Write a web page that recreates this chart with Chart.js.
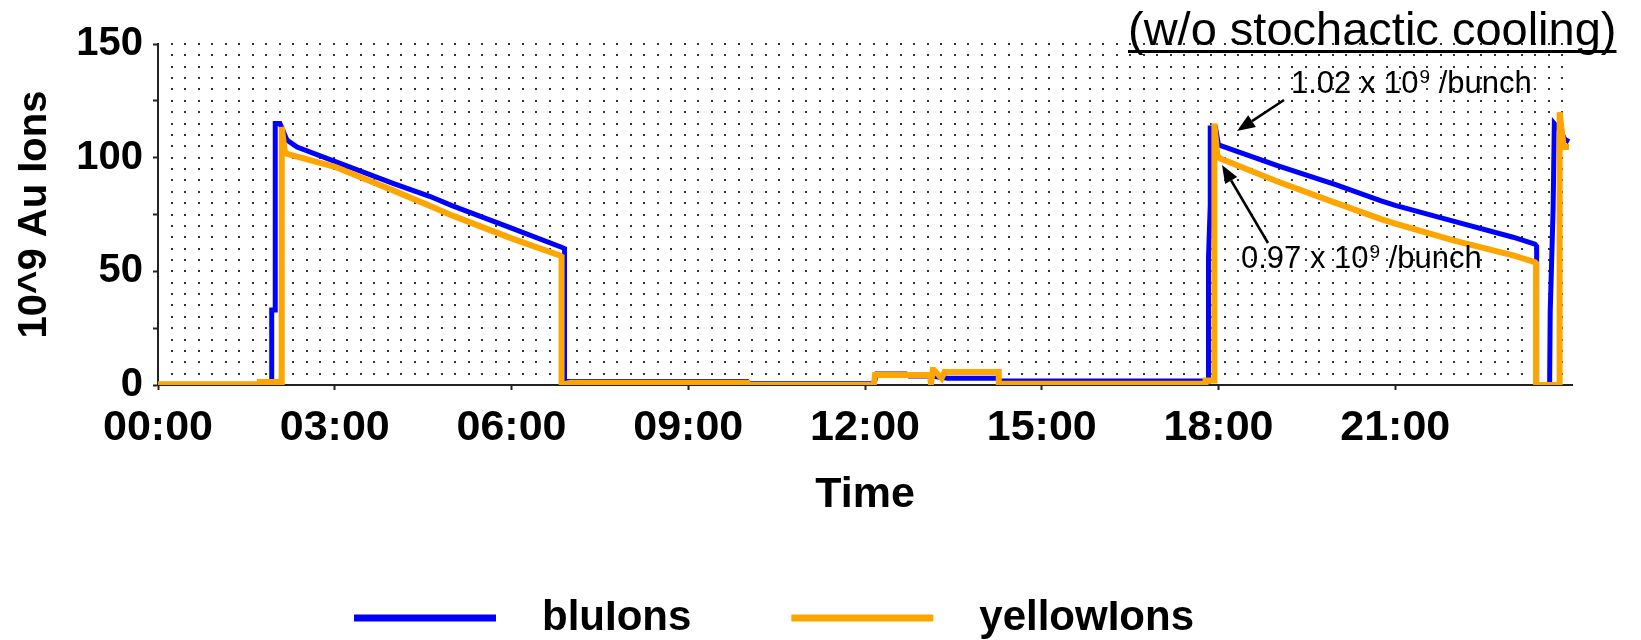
<!DOCTYPE html>
<html><head><meta charset="utf-8">
<script src="https://cdn.jsdelivr.net/npm/chart.js@4.4.1/dist/chart.umd.min.js"></script>
<style>html,body{margin:0;padding:0;background:#fff}</style>
</head><body>
<canvas id="c" width="1641" height="640"></canvas>
<script>
// ---- data ----
const seriesNames = ['bluIons', 'yellowIons'];
const xTickHours = [0, 3, 6, 9, 12, 15, 18, 21];
const xTickLabels = ['00:00', '03:00', '06:00', '09:00', '12:00', '15:00', '18:00', '21:00'];
const yTickValues = [0, 25, 50, 75, 100, 125, 150];
const yTickLabels = ['0', '', '50', '', '100', '', '150'];
const xAxisTitle = 'Time';
const yAxisTitle = '10^9 Au Ions';
const chartNote = '(w/o stochactic cooling)';
const noteBlue = ['1.02 x 10', '9', ' /bunch'];
const noteYellow = ['0.97 x 10', '9', ' /bunch'];

// hours of day
const bluTime = [0.00, 1.93, 1.93, 1.99, 1.99, 2.07, 2.19, 2.36, 3.00, 4.00, 4.61, 5.00, 6.00, 6.86, 6.90, 6.90,
  10.00, 10.02, 12.15, 12.20, 12.70, 12.75, 13.12, 13.40, 14.25, 14.27, 17.83, 17.83, 17.86, 17.86, 17.95, 18.00,
  19.00, 20.00, 20.76, 21.00, 22.00, 23.00, 23.37, 23.40, 23.40, 23.62, 23.63, 23.68, 23.70, 23.80, 23.88, 23.95];
const bluVal = [0, 0, 33, 33, 115, 115, 107.7, 104.7, 98.4, 88.6, 83, 78.8, 69, 60.5, 60, 1.5,
  1.5, 0.5, 0.5, 4.8, 4.8, 4, 4, 3, 3, 1.8, 1.8, 56, 79, 113, 113, 105.6,
  96.5, 88, 81, 79, 72, 65, 62, 61, 0, 0, 32, 78, 115, 112, 108, 107];

const yelTime = [0.00, 1.73, 1.73, 2.10, 2.10, 2.15, 2.19, 3.00, 4.00, 4.61, 5.00, 6.00, 6.82, 6.85, 6.85, 7.00,
  10.00, 10.00, 12.15, 12.17, 13.10, 13.12, 13.15, 13.17, 13.30, 13.35, 14.27, 14.27, 17.78, 17.78, 17.93, 17.93,
  17.98, 18.03, 19.00, 20.00, 20.76, 21.00, 22.00, 23.00, 23.37, 23.39, 23.39, 23.79, 23.79, 23.86, 23.95];
const yelVal = [0.3, 0.3, 1.3, 1.3, 113.5, 103, 101.7, 96, 85.5, 78.8, 74.5, 64.5, 57, 56.5, 0, 1,
  1, 0, 0, 4.4, 4.4, 0.5, 6.6, 6.6, 3, 5.7, 5.7, 0.5, 0.5, 2, 2, 115,
  101, 99.6, 89.5, 80, 73, 71, 63.5, 57, 54, 53.5, 0, 0, 120, 104.7, 104.7];

const toPts = (t, v) => t.map((x, i) => ({x: x, y: v[i]}));

// ---- plugins (decoration only) ----
const dotGrid = {
  id: 'dotGrid',
  beforeDatasetsDraw(chart) {
    const {ctx, chartArea: a, scales: {y}} = chart;
    ctx.save();
    ctx.fillStyle = '#333';
    for (let v = 150; v > 0; v -= 5) {
      const py = Math.round(y.getPixelForValue(v));
      for (let px = a.left + 13.5; px < a.right - 2; px += 13.5) {
        ctx.fillRect(Math.round(px) - 1, py - 1, 2, 2);
      }
    }
    ctx.restore();
  }
};

function arrow(ctx, x1, y1, x2, y2) {
  const ang = Math.atan2(y2 - y1, x2 - x1);
  const hl = 18, hw = 7;
  const bx = x2 - hl * Math.cos(ang), by = y2 - hl * Math.sin(ang);
  ctx.beginPath();
  ctx.moveTo(x1, y1); ctx.lineTo(bx, by);
  ctx.lineWidth = 2.5; ctx.strokeStyle = '#000'; ctx.stroke();
  ctx.beginPath();
  ctx.moveTo(x2, y2);
  ctx.lineTo(bx + hw * Math.sin(ang), by - hw * Math.cos(ang));
  ctx.lineTo(bx - hw * Math.sin(ang), by + hw * Math.cos(ang));
  ctx.closePath(); ctx.fillStyle = '#000'; ctx.fill();
}

function supText(ctx, parts, x, y) {
  ctx.font = '31px "Liberation Sans", Arial, sans-serif';
  ctx.fillText(parts[0], x, y);
  let w = ctx.measureText(parts[0]).width;
  ctx.font = '19px "Liberation Sans", Arial, sans-serif';
  ctx.fillText(parts[1], x + w + 1, y - 10);
  w += ctx.measureText(parts[1]).width + 1;
  ctx.font = '31px "Liberation Sans", Arial, sans-serif';
  ctx.fillText(parts[2], x + w, y);
}

const notesPlugin = {
  id: 'notes',
  afterDraw(chart) {
    const ctx = chart.ctx;
    ctx.save();
    ctx.fillStyle = '#000';
    ctx.textBaseline = 'alphabetic';
    ctx.textAlign = 'left';
    // title note
    ctx.font = '47px "Liberation Sans", Arial, sans-serif';
    const tw = ctx.measureText(chartNote).width;
    ctx.fillText(chartNote, 1128, 45);
    ctx.fillRect(1128, 50, tw, 3);
    // bunch notes
    supText(ctx, noteBlue, 1291, 93);
    supText(ctx, noteYellow, 1241, 268);
    arrow(ctx, 1284, 100, 1237, 131);
    arrow(ctx, 1268, 243, 1222, 165);
    // legend
    const ds = chart.data.datasets;
    let x = 354;
    const ly = 618;
    ctx.font = 'bold 42px "Liberation Sans", Arial, sans-serif';
    ctx.textBaseline = 'middle';
    ds.forEach((d) => {
      ctx.fillStyle = d.borderColor;
      ctx.fillRect(x, ly - 3.5, 142, 7);
      ctx.fillStyle = '#000';
      ctx.fillText(d.label, x + 188, ly);
      x += 188 + ctx.measureText(d.label).width + 100;
    });
    ctx.restore();
  }
};

const boldFont = (s) => ({family: '"Liberation Sans", Arial, sans-serif', size: s, weight: 'bold', lineHeight: 1.2});

new Chart(document.getElementById('c'), {
  type: 'line',
  data: {
    datasets: [
      {label: seriesNames[0], data: toPts(bluTime, bluVal), borderColor: 'rgb(0,0,255)', backgroundColor: 'rgb(0,0,255)',
       borderWidth: 5, pointRadius: 0, tension: 0, fill: false, order: 2, borderJoinStyle: 'miter'},
      {label: seriesNames[1], data: toPts(yelTime, yelVal), borderColor: 'rgb(255,165,0)', backgroundColor: 'rgb(255,165,0)',
       borderWidth: 6, pointRadius: 0, tension: 0, fill: false, order: 1, borderJoinStyle: 'miter'}
    ]
  },
  options: {
    responsive: false,
    animation: false,
    layout: {padding: {top: 44, right: 69, bottom: 100, left: 0}},
    plugins: {legend: {display: false}, tooltip: {enabled: false}},
    scales: {
      x: {
        type: 'linear', min: 0, max: 24,
        afterBuildTicks: (s) => { s.ticks = xTickHours.map(v => ({value: v})); },
        afterFit: (s) => { s.height = 155; },
        ticks: {
          callback: (v) => { const i = xTickHours.indexOf(v); return i >= 0 ? xTickLabels[i] : ''; },
          font: boldFont(43), color: '#000', padding: 12, maxRotation: 0, autoSkip: false
        },
        grid: {drawOnChartArea: false, drawTicks: true, tickLength: 5, tickColor: '#222', tickWidth: 2},
        border: {display: true, color: '#222', width: 2},
        title: {display: true, text: xAxisTitle, font: boldFont(43), color: '#000', padding: {top: 0, bottom: 19}}
      },
      y: {
        type: 'linear', min: 0, max: 150,
        afterBuildTicks: (s) => { s.ticks = yTickValues.map(v => ({value: v})); },
        afterFit: (s) => { s.width = 158; },
        ticks: {
          callback: (v) => { const i = yTickValues.indexOf(v); return i >= 0 ? yTickLabels[i] : ''; },
          font: boldFont(40), color: '#000', padding: 10
        },
        grid: {drawOnChartArea: false, drawTicks: true, tickLength: 5, tickColor: '#222', tickWidth: 2},
        border: {display: true, color: '#222', width: 2},
        title: {display: true, text: yAxisTitle, font: boldFont(40), color: '#000', padding: {top: 11, bottom: 0}}
      }
    }
  },
  plugins: [dotGrid, notesPlugin]
});
</script>
</body></html>
